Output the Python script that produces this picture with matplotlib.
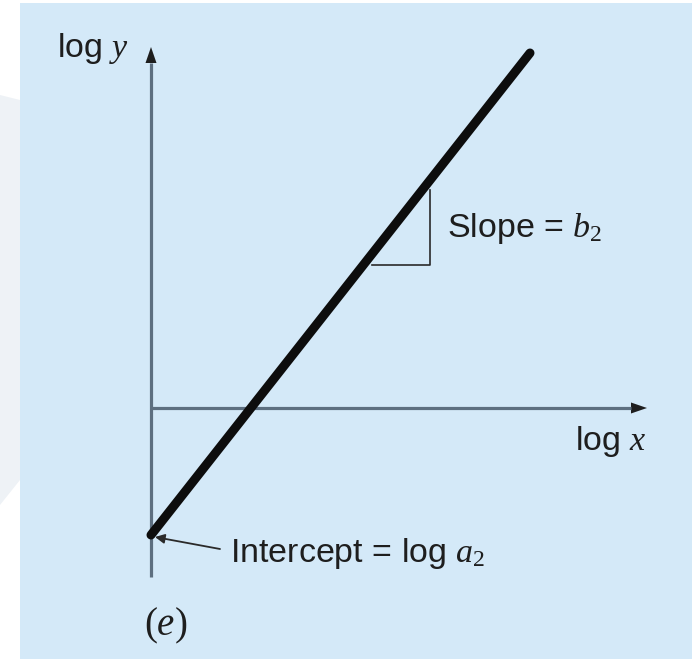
import numpy as np
import matplotlib
matplotlib.use("Agg")
import matplotlib.pyplot as plt
from matplotlib.patches import Polygon, Rectangle

plt.rcParams['font.family'] = ['Liberation Sans', 'DejaVu Sans']
plt.rcParams['mathtext.fontset'] = 'custom'
plt.rcParams['mathtext.rm'] = 'Liberation Serif'
plt.rcParams['mathtext.it'] = 'Liberation Serif:italic'

# schematic in (log x, log y) units, axes cross at (0, 0)
line_x = [0.0, 3.79]
line_y = [-1.27, 3.55]
tri_x = [2.21, 2.79, 2.79]
tri_y = [1.43, 1.43, 2.18]
xaxis_end = 4.96
yaxis_range = [-1.69, 3.61]

bg = '#d4e9f8'
axis_col = '#5d6f80'
ink = '#1e1e1e'
fs = 24.5

fig = plt.figure(figsize=(6.92, 6.59), dpi=100)
ax = fig.add_axes([0, 0, 1, 1])
ax.set_xlim(-1.51, 5.41)
ax.set_ylim(-2.51, 4.08)
ax.axis('off')

# faint shape at the left edge + blue panel
ax.add_patch(Polygon([[-1.51, 3.13], [-1.31, 3.08], [-1.31, -0.72], [-1.51, -0.97]],
                     closed=True, color='#eef2f6', lw=0))
ax.add_patch(Rectangle((-1.31, -2.6), 6.8, 6.65, color=bg, lw=0))

# axes with arrowheads
head_len, head_w = 0.16, 0.055
ax.plot([0, 0], [yaxis_range[0], yaxis_range[1] - head_len], color=axis_col, lw=2.3,
        solid_capstyle='butt')
ax.plot([0, xaxis_end - head_len], [0, 0], color=axis_col, lw=2.3, solid_capstyle='butt')
ax.add_patch(Polygon([[0, yaxis_range[1]], [-head_w, yaxis_range[1] - head_len],
                      [head_w, yaxis_range[1] - head_len]], closed=True, color=ink, lw=0))
ax.add_patch(Polygon([[xaxis_end, 0], [xaxis_end - head_len, head_w],
                      [xaxis_end - head_len, -head_w]], closed=True, color=ink, lw=0))

# slope triangle
ax.plot(tri_x, tri_y, color='#2a2a2a', lw=1.2)

# thick fit line
ax.plot(line_x, line_y, color='#0d0d0d', lw=6.5, solid_capstyle='round')

# intercept arrow
ax.annotate('', xy=(0.04, line_y[0] - 0.02), xytext=(0.69, -1.41),
            arrowprops=dict(arrowstyle='-|>', color='#2a2a2a', lw=1.3, mutation_scale=14,
                            shrinkA=0, shrinkB=0))

ax.text(-0.94, 3.51, 'log $y$', fontsize=fs, color=ink, va='baseline')
ax.text(4.24, -0.42, 'log $x$', fontsize=fs, color=ink, va='baseline')
ax.text(2.96, 1.71, 'Slope = $b_2$', fontsize=fs, color=ink, va='baseline')
ax.text(0.79, -1.54, 'Intercept = log $a_2$', fontsize=fs, color=ink, va='baseline')
ax.text(-0.07, -2.27, '$(e)$', fontsize=28, color=ink, va='baseline')

fig.savefig('out.png', dpi=100)
